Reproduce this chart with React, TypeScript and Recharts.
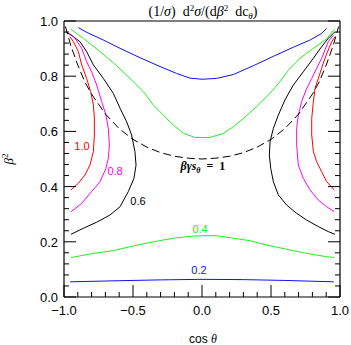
import React from 'react';
import { ScatterChart, Scatter, XAxis, YAxis, ReferenceDot } from 'recharts';

type Pt = { x: number; y: number };
const pts = (rows: number[][]): Pt[] => rows.map(([x, y]) => ({ x, y }));

// tick positions (major ticks carry labels)
const xTicks = [-1, -0.9, -0.8, -0.7, -0.6, -0.5, -0.4, -0.3, -0.2, -0.1, 0, 0.1, 0.2, 0.3, 0.4, 0.5, 0.6, 0.7, 0.8, 0.9, 1];
const yTicks = [0, 0.04, 0.08, 0.12, 0.16, 0.2, 0.24, 0.28, 0.32, 0.36, 0.4, 0.44, 0.48, 0.52, 0.56, 0.6, 0.64, 0.68, 0.72, 0.76, 0.8, 0.84, 0.88, 0.92, 0.96, 1];
const xLabels = ['−1.0', '−0.5', '0.0', '0.5', '1.0'];
const yLabels = ['0.0', '0.2', '0.4', '0.6', '0.8', '1.0'];

// contour level 0.2 (blue)
const blueTop = pts([
  [-0.896, 0.976], [-0.836, 0.959], [-0.715, 0.931], [-0.594, 0.901], [-0.449, 0.867],
  [-0.304, 0.835], [-0.184, 0.81], [-0.087, 0.793], [0.0, 0.789], [0.106, 0.792],
  [0.227, 0.806], [0.372, 0.838], [0.517, 0.872], [0.662, 0.905], [0.783, 0.931],
  [0.867, 0.955], [0.903, 0.973],
]);
const blueBottom = pts([
  [-0.955, 0.055], [-0.6, 0.059], [-0.3, 0.062], [0.0, 0.064], [0.3, 0.063], [0.6, 0.06], [0.955, 0.055],
]);

// contour level 0.4 (green)
const greenTop = pts([
  [-0.949, 0.97], [-0.86, 0.937], [-0.739, 0.889], [-0.618, 0.838], [-0.522, 0.792],
  [-0.425, 0.744], [-0.353, 0.696], [-0.28, 0.659], [-0.208, 0.623], [-0.135, 0.593],
  [-0.051, 0.578], [0.022, 0.578], [0.058, 0.578], [0.155, 0.593], [0.227, 0.617],
  [0.3, 0.647], [0.396, 0.69], [0.493, 0.738], [0.565, 0.78], [0.626, 0.822],
  [0.71, 0.865], [0.807, 0.901], [0.903, 0.935], [0.959, 0.97],
]);
const greenBottom = pts([
  [-0.949, 0.143], [-0.787, 0.158], [-0.643, 0.168], [-0.498, 0.185], [-0.353, 0.2],
  [-0.208, 0.213], [-0.063, 0.221], [0.022, 0.222], [0.106, 0.222], [0.227, 0.213],
  [0.348, 0.204], [0.469, 0.188], [0.614, 0.173], [0.758, 0.158], [0.903, 0.146], [0.959, 0.143],
]);

// contour level 0.6 (black)
const blackLeft = pts([
  [-0.986, 0.961], [-0.932, 0.943], [-0.884, 0.925], [-0.836, 0.889], [-0.787, 0.841],
  [-0.715, 0.792], [-0.643, 0.738], [-0.594, 0.684], [-0.546, 0.635], [-0.51, 0.587],
  [-0.486, 0.527], [-0.478, 0.478], [-0.493, 0.43], [-0.534, 0.382], [-0.594, 0.327],
  [-0.667, 0.297], [-0.763, 0.271], [-0.86, 0.249], [-0.949, 0.227],
]);
const blackRight = pts([
  [0.964, 0.961], [0.915, 0.937], [0.867, 0.907], [0.807, 0.865], [0.734, 0.816],
  [0.662, 0.768], [0.601, 0.714], [0.553, 0.659], [0.517, 0.611], [0.493, 0.563],
  [0.488, 0.514], [0.498, 0.466], [0.517, 0.418], [0.553, 0.37], [0.614, 0.333],
  [0.686, 0.303], [0.758, 0.279], [0.843, 0.255], [0.915, 0.237], [0.964, 0.227],
]);

// contour level 0.8 (magenta)
const magentaLeft = pts([
  [-0.957, 0.955], [-0.92, 0.937], [-0.872, 0.901], [-0.836, 0.853], [-0.8, 0.816],
  [-0.763, 0.768], [-0.727, 0.708], [-0.696, 0.659], [-0.679, 0.611], [-0.671, 0.551],
  [-0.679, 0.502], [-0.696, 0.466], [-0.739, 0.418], [-0.8, 0.382], [-0.872, 0.339], [-0.949, 0.309],
]);
const magentaRight = pts([
  [0.952, 0.949], [0.915, 0.925], [0.891, 0.895], [0.867, 0.865], [0.831, 0.829],
  [0.795, 0.792], [0.754, 0.75], [0.722, 0.708], [0.698, 0.659], [0.686, 0.611],
  [0.686, 0.551], [0.698, 0.478], [0.734, 0.43], [0.783, 0.388], [0.843, 0.351],
  [0.903, 0.327], [0.959, 0.309],
]);

// contour level 1.0 (red)
const redLeft = pts([
  [-0.957, 0.943], [-0.932, 0.925], [-0.896, 0.889], [-0.872, 0.841], [-0.836, 0.792],
  [-0.807, 0.744], [-0.787, 0.696], [-0.78, 0.647], [-0.78, 0.587], [-0.787, 0.527],
  [-0.812, 0.478], [-0.848, 0.442], [-0.896, 0.412], [-0.949, 0.388],
]);
const redRight = pts([
  [0.964, 0.943], [0.94, 0.925], [0.915, 0.895], [0.891, 0.865], [0.867, 0.829],
  [0.843, 0.792], [0.819, 0.756], [0.807, 0.708], [0.795, 0.647], [0.795, 0.587],
  [0.807, 0.527], [0.831, 0.49], [0.867, 0.454], [0.903, 0.418], [0.959, 0.388],
]);

// boundary beta*gamma*sin(theta) = 1 (dashed)
const boundary = pts([
  [-0.99, 0.98], [-0.95, 0.91], [-0.9, 0.84], [-0.85, 0.78], [-0.8, 0.735], [-0.7, 0.663],
  [-0.6, 0.61], [-0.5, 0.571], [-0.4, 0.543], [-0.3, 0.523], [-0.2, 0.51], [-0.1, 0.503],
  [0.0, 0.5], [0.1, 0.503], [0.2, 0.51], [0.3, 0.523], [0.4, 0.543], [0.5, 0.571],
  [0.6, 0.61], [0.7, 0.663], [0.8, 0.735], [0.85, 0.78], [0.9, 0.84], [0.95, 0.91], [0.99, 0.98],
]);

const BLUE = '#1010ff';
const GREEN = '#22ee22';
const MAGENTA = '#ff00ff';
const RED = '#ff0000';
const BLACK = '#000000';

const SANS = '"Liberation Sans", Arial, Helvetica, sans-serif';
const SERIF = '"Liberation Serif", "Times New Roman", serif';

const isMajorX = (v: number) => Math.abs(v * 2 - Math.round(v * 2)) < 1e-6;
const isMajorY = (v: number) => Math.abs(v * 5 - Math.round(v * 5)) < 1e-6;

function BottomTick(props: any) {
  const { x, y, payload } = props;
  const v = payload.value as number;
  const major = isMajorX(v);
  const idx = Math.round((v + 1) * 2);
  return (
    <g>
      <line x1={x} x2={x} y1={y} y2={y - (major ? 12 : 5)} stroke={BLACK} strokeWidth={1} />
      {major && (
        <text x={x} y={y + 18} textAnchor="middle" fontSize={13} fontFamily={SANS} fill={BLACK}>
          {xLabels[idx]}
        </text>
      )}
    </g>
  );
}

function TopTick(props: any) {
  const { x, y, payload } = props;
  const major = isMajorX(payload.value);
  return <line x1={x} x2={x} y1={y} y2={y + (major ? 12 : 5)} stroke={BLACK} strokeWidth={1} />;
}

function LeftTick(props: any) {
  const { x, y, payload } = props;
  const v = payload.value as number;
  const major = isMajorY(v);
  const idx = Math.round(v * 5);
  return (
    <g>
      <line x1={x} x2={x + (major ? 12 : 5)} y1={y} y2={y} stroke={BLACK} strokeWidth={1} />
      {major && (
        <text x={x - 6} y={y + 5} textAnchor="end" fontSize={13} fontFamily={SANS} fill={BLACK}>
          {yLabels[idx]}
        </text>
      )}
    </g>
  );
}

function RightTick(props: any) {
  const { x, y, payload } = props;
  const major = isMajorY(payload.value);
  return <line x1={x} x2={x - (major ? 12 : 5)} y1={y} y2={y} stroke={BLACK} strokeWidth={1} />;
}

const noDot = () => <g />;

function levelLabel(text: string, color: string) {
  return (p: any) => (
    <text x={p.cx} y={p.cy} dy="0.35em" textAnchor="middle" fontSize={11} fontFamily={SANS} fill={color}>
      {text}
    </text>
  );
}

function boundaryLabel(p: any) {
  return (
    <text x={p.cx} y={p.cy} textAnchor="middle" fontSize={12} fontFamily={SERIF} fontWeight="bold" fill={BLACK}>
      <tspan fontStyle="italic">βγs</tspan>
      <tspan dy={3} fontSize={8} fontStyle="italic">θ</tspan>
      <tspan dy={-3}>{'\u00a0\u00a0=\u00a0\u00a01'}</tspan>
    </text>
  );
}

const curves: { data: Pt[]; color: string; dash?: string }[] = [
  { data: blueTop, color: BLUE },
  { data: blueBottom, color: BLUE },
  { data: greenTop, color: GREEN },
  { data: greenBottom, color: GREEN },
  { data: blackLeft, color: BLACK },
  { data: blackRight, color: BLACK },
  { data: magentaLeft, color: MAGENTA },
  { data: magentaRight, color: MAGENTA },
  { data: redLeft, color: RED },
  { data: redRight, color: RED },
  { data: boundary, color: BLACK, dash: '8 4' },
];

export default function App() {
  return (
    <div style={{ position: 'absolute', left: 0, top: 0, width: 351, height: 345, background: '#fff' }}>
      <ScatterChart width={351} height={345} margin={{ top: 20, right: 10, bottom: 47, left: 63 }}>
        <XAxis
          xAxisId="b"
          dataKey="x"
          type="number"
          domain={[-1, 1]}
          ticks={xTicks}
          interval={0}
          height={1}
          tickSize={0}
          tickMargin={0}
          tickLine={false}
          axisLine={{ stroke: BLACK, strokeWidth: 1.2 }}
          tick={<BottomTick />}
          allowDataOverflow
        />
        <XAxis
          xAxisId="t"
          orientation="top"
          type="number"
          domain={[-1, 1]}
          ticks={xTicks}
          interval={0}
          height={1}
          tickSize={0}
          tickMargin={0}
          tickLine={false}
          axisLine={{ stroke: BLACK, strokeWidth: 1.2 }}
          tick={<TopTick />}
          allowDataOverflow
        />
        <YAxis
          yAxisId="l"
          dataKey="y"
          type="number"
          domain={[0, 1]}
          ticks={yTicks}
          interval={0}
          width={1}
          tickSize={0}
          tickMargin={0}
          tickLine={false}
          axisLine={{ stroke: BLACK, strokeWidth: 1.2 }}
          tick={<LeftTick />}
          allowDataOverflow
        />
        <YAxis
          yAxisId="r"
          orientation="right"
          type="number"
          domain={[0, 1]}
          ticks={yTicks}
          interval={0}
          width={1}
          tickSize={0}
          tickMargin={0}
          tickLine={false}
          axisLine={{ stroke: BLACK, strokeWidth: 1.2 }}
          tick={<RightTick />}
          allowDataOverflow
        />
        {curves.map((c, i) => (
          <Scatter
            key={i}
            xAxisId="b"
            yAxisId="l"
            data={c.data}
            fill={c.color}
            shape={noDot}
            line={{ stroke: c.color, strokeWidth: 1, strokeDasharray: c.dash }}
            lineType="joint"
            isAnimationActive={false}
          />
        ))}
        <ReferenceDot xAxisId="b" yAxisId="l" x={-0.87} y={0.546} r={0} shape={levelLabel('1.0', RED)} />
        <ReferenceDot xAxisId="b" yAxisId="l" x={-0.63} y={0.455} r={0} shape={levelLabel('0.8', MAGENTA)} />
        <ReferenceDot xAxisId="b" yAxisId="l" x={-0.464} y={0.347} r={0} shape={levelLabel('0.6', BLACK)} />
        <ReferenceDot xAxisId="b" yAxisId="l" x={-0.014} y={0.245} r={0} shape={levelLabel('0.4', GREEN)} />
        <ReferenceDot xAxisId="b" yAxisId="l" x={-0.022} y={0.097} r={0} shape={levelLabel('0.2', BLUE)} />
        <ReferenceDot xAxisId="b" yAxisId="l" x={0.007} y={0.459} r={0} shape={boundaryLabel} />
      </ScatterChart>
      <svg
        width={351}
        height={345}
        style={{ position: 'absolute', left: 0, top: 0, pointerEvents: 'none' }}
      >
        <text x={203} y={16} textAnchor="middle" fontSize={14} fontFamily={SERIF} fill={BLACK}>
          (1/<tspan fontStyle="italic">σ</tspan>){'\u00a0\u00a0'}d
          <tspan dy={-5} fontSize={9}>2</tspan>
          <tspan dy={5} fontStyle="italic">σ</tspan>
          <tspan>/(d</tspan>
          <tspan fontStyle="italic">β</tspan>
          <tspan dy={-5} fontSize={9}>2</tspan>
          <tspan dy={5}>{'\u00a0\u00a0dc'}</tspan>
          <tspan dy={3} fontSize={9} fontStyle="italic">θ</tspan>
          <tspan dy={-3}>)</tspan>
        </text>
        <text
          transform="translate(12.5,159) rotate(-90)"
          textAnchor="middle"
          fontSize={13}
          fontFamily={SERIF}
          fill={BLACK}
        >
          <tspan fontStyle="italic">β</tspan>
          <tspan dy={-5} fontSize={9}>2</tspan>
        </text>
        <text x={203} y={343} textAnchor="middle" fontSize={12} fontFamily={SANS} fill={BLACK}>
          cos <tspan fontFamily={SERIF} fontStyle="italic">θ</tspan>
        </text>
      </svg>
    </div>
  );
}
